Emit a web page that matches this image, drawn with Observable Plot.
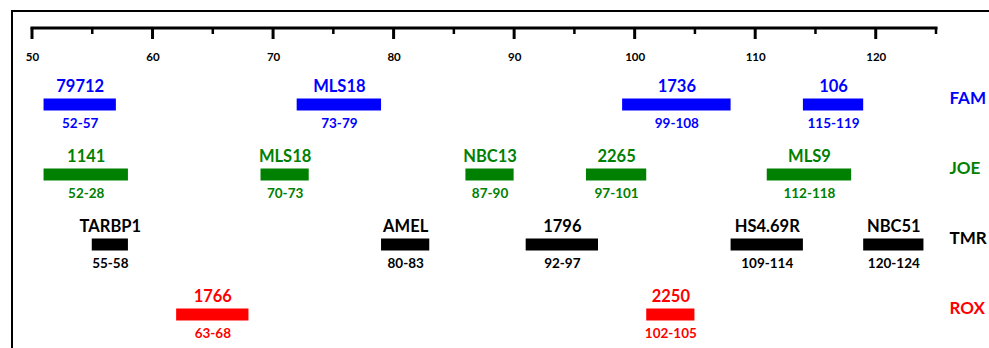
<!DOCTYPE html>
<html>
<head>
<meta charset="utf-8">
<script src="https://cdn.jsdelivr.net/npm/d3@7"></script>
<script src="https://cdn.jsdelivr.net/npm/@observablehq/plot@0.6"></script>
<style>
  html, body { margin: 0; padding: 0; background: #fff; overflow: hidden; }
  #wrap { position: relative; width: 989px; height: 348px; overflow: hidden; }
  #border { position: absolute; left: 11px; top: 10px; width: 2000px; height: 2000px;
            border-top: 2px solid #000; border-left: 2px solid #000; pointer-events: none; }
  #chart svg { display: block; }
</style>
</head>
<body>
<div id="wrap"><div id="chart"></div><div id="border"></div></div>
<script>
const series = ["FAM", "JOE", "TMR", "ROX"];
const seriesColors = ["#0000ff", "#008000", "#000000", "#ff0000"];
const majorTicks = [50, 60, 70, 80, 90, 100, 110, 120];
const minorTicks = [55, 65, 75, 85, 95, 105, 115, 125];

const markerNames = ["79712", "MLS18", "1736", "106", "1141", "MLS18", "NBC13", "2265", "MLS9", "TARBP1", "AMEL", "1796", "HS4.69R", "NBC51", "1766", "2250"];
const markerDye = ["FAM", "FAM", "FAM", "FAM", "JOE", "JOE", "JOE", "JOE", "JOE", "TMR", "TMR", "TMR", "TMR", "TMR", "ROX", "ROX"];
const barStart = [51, 72, 99, 114, 51, 69, 86, 96, 111, 55, 79, 91, 108, 119, 62, 101];
const barEnd = [57, 79, 108, 119, 58, 73, 90, 101, 118, 58, 83, 97, 114, 124, 68, 105];
const sizeRanges = ["52-57", "73-79", "99-108", "115-119", "52-28", "70-73", "87-90", "97-101", "112-118", "55-58", "80-83", "92-97", "109-114", "120-124", "63-68", "102-105"];

const markers = markerNames.map((name, i) => ({
  name, dye: markerDye[i], start: barStart[i], end: barEnd[i], range: sizeRanges[i]
}));

const W = 989, Hgt = 348, mTop = 27.5, mBottom = 0;
const frameH = Hgt - mTop - mBottom;

const chart = Plot.plot({
  width: W,
  height: Hgt,
  marginTop: mTop,
  marginBottom: mBottom,
  marginLeft: 31.5,
  marginRight: 53.5,
  style: { fontFamily: "Lato, 'Open Sans', sans-serif", background: "transparent" },
  x: { domain: [50, 125], axis: null },
  y: { type: "point", domain: series, range: [103.5, 315], padding: 0, axis: null },
  color: { domain: series, range: seriesColors },
  marks: [
    Plot.frame({ anchor: "top", stroke: "#000", strokeWidth: 3 }),
    Plot.tickX(majorTicks, { x: d => d, stroke: "#000", strokeWidth: 3, insetBottom: frameH - 11.5 }),
    Plot.tickX(minorTicks, { x: d => d, stroke: "#000", strokeWidth: 2.5, insetBottom: frameH - 6.5 }),
    Plot.text(majorTicks, { x: d => d, frameAnchor: "top", dy: 25, dx: 0.5, text: d => String(d),
      fontSize: 11.5, fontWeight: "bold", fill: "#000" }),
    Plot.ruleY(markers, { x1: "start", x2: "end", y: "dye", stroke: "dye", strokeWidth: 12, strokeLinecap: "butt" }),
    Plot.text(markers, { x: d => (d.start + d.end) / 2, y: "dye", text: "name", fill: "dye",
      dy: -17.5, fontSize: 16.5, fontWeight: "bold" }),
    Plot.text(markers, { x: d => (d.start + d.end) / 2, y: "dye", text: "range", fill: "dye",
      dy: 19, fontSize: 13.5, fontWeight: "bold" }),
    Plot.text(series, { y: d => d, text: d => d, fill: d => d, frameAnchor: "right",
      textAnchor: "start", dx: 13.5, dy: -6, fontSize: 17, fontWeight: "bold" })
  ]
});
document.getElementById("chart").appendChild(chart);
</script>
</body>
</html>
